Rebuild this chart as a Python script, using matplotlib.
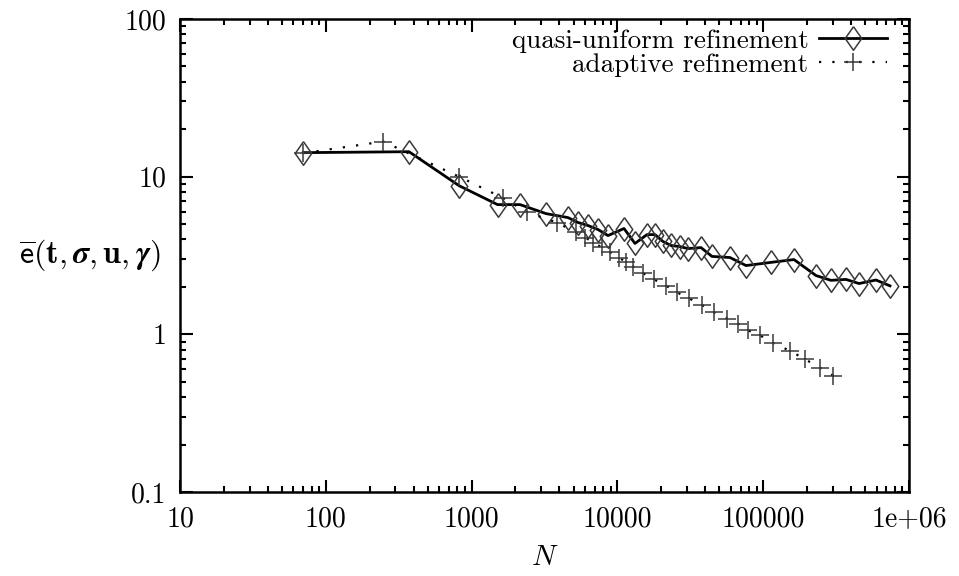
import numpy as np
import matplotlib
matplotlib.use("Agg")
import matplotlib.pyplot as plt
from matplotlib.ticker import FixedLocator, FixedFormatter, LogLocator, NullFormatter

plt.rcParams['font.family'] = ['cmr10', 'DejaVu Serif']
plt.rcParams['mathtext.fontset'] = 'cm'
plt.rcParams['axes.formatter.use_mathtext'] = True

# quasi-uniform refinement (diamonds, solid line)
quasi_N = [70, 372, 820, 1506, 2148, 3239, 4584, 5370, 6284, 7362, 8620,
           11100, 13200, 15960, 18110, 20540, 23320, 26880, 30490, 37430,
           44540, 59180, 76250, 113100, 162600, 230200, 291700, 369800,
           454000, 594100, 741000]
quasi_e = [14.2, 14.4, 8.77, 6.65, 6.65, 5.83, 5.50, 5.12, 4.90, 4.62, 4.23,
           4.69, 3.77, 4.29, 4.29, 3.88, 3.66, 3.60, 3.50, 3.55,
           3.12, 3.07, 2.73, 2.86, 2.98, 2.36, 2.20, 2.23,
           2.10, 2.21, 2.03]

# adaptive refinement (plus signs, dotted line)
adapt_N = [70, 248, 820, 1650, 2417, 3835, 5200, 6040, 6800, 7800, 8900,
           10310, 11460, 12850, 15060, 17830, 21480, 25520, 30980, 37860,
           45730, 56450, 67170, 78700, 95100, 116700, 152700, 193600,
           245300, 302600]
adapt_e = [14.1, 16.7, 10.0, 7.31, 5.94, 5.12, 4.44, 4.11, 3.82, 3.57, 3.32,
           3.06, 2.87, 2.69, 2.44, 2.23, 2.04, 1.85, 1.69, 1.54,
           1.38, 1.26, 1.17, 1.06, 0.985, 0.881, 0.786, 0.695,
           0.614, 0.546]

x_ticks = [10, 100, 1000, 10000, 100000, 1000000]
x_labels = ["10", "100", "1000", "10000", "100000", "1e+06"]
y_ticks = [0.1, 1, 10, 100]
y_labels = ["0.1", "1", "10", "100"]

fig = plt.figure(figsize=(9.59, 5.76), dpi=100)
ax = fig.add_axes([180 / 959, 84 / 576, 729 / 959, 473 / 576])

diamond = [(0, 1), (0.7, 0), (0, -1), (-0.7, 0), (0, 1)]
ax.plot(quasi_N, quasi_e, color='black', lw=2.0, marker=diamond, ms=17,
        mfc='none', mec='#3a3a3a', mew=1.1, label='quasi-uniform refinement')
ax.plot(adapt_N, adapt_e, color='black', lw=1.6, ls=(0, (1, 5)), marker='+',
        ms=13, mec='#3a3a3a', mew=1.1, label='adaptive refinement')

ax.set_xscale('log')
ax.set_yscale('log')
ax.set_xlim(10, 1e6)
ax.set_ylim(0.1, 100)

ax.xaxis.set_major_locator(FixedLocator(x_ticks))
ax.xaxis.set_major_formatter(FixedFormatter(x_labels))
ax.yaxis.set_major_locator(FixedLocator(y_ticks))
ax.yaxis.set_major_formatter(FixedFormatter(y_labels))
for axis in (ax.xaxis, ax.yaxis):
    axis.set_minor_locator(LogLocator(base=10, subs=np.arange(2, 10), numticks=20))
    axis.set_minor_formatter(NullFormatter())

ax.tick_params(which='both', direction='in', top=True, right=True, width=1.5,
               labelsize=20)
ax.tick_params(which='major', length=9)
ax.tick_params(which='minor', length=4.5)
ax.tick_params(axis='x', pad=10)
ax.tick_params(axis='y', pad=10)
for sp in ax.spines.values():
    sp.set_linewidth(1.8)

ax.set_xlabel(r'$N$', fontsize=21, labelpad=9)
fig.text(90 / 959, 1 - 255 / 576,
         r'$\overline{\mathsf{e}}(\mathbf{t},\boldsymbol{\sigma},\mathbf{u},\boldsymbol{\gamma})$',
         fontsize=23, ha='center', va='center')

ax.legend(loc='upper right', bbox_to_anchor=((887 - 180) / 729, (492 - 29) / 473),
          frameon=False, markerfirst=False, numpoints=1, fontsize=19.5,
          handlelength=2.5, handletextpad=0.4, labelspacing=0.0,
          borderpad=0, borderaxespad=0)

fig.savefig('out.png', dpi=100)
